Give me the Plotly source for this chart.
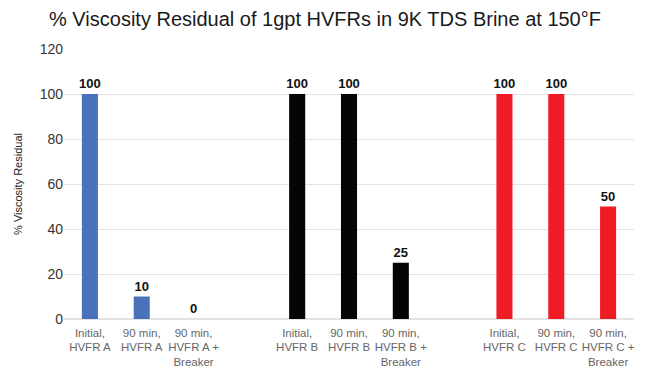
import plotly.graph_objects as go

categories = ["Initial,<br>HVFR A", "90 min,<br>HVFR A", "90 min,<br>HVFR A +<br>Breaker", " ",
              "Initial,<br>HVFR B", "90 min,<br>HVFR B", "90 min,<br>HVFR B +<br>Breaker", "  ",
              "Initial,<br>HVFR C", "90 min,<br>HVFR C", "90 min,<br>HVFR C +<br>Breaker"]
values = [100, 10, 0, None, 100, 100, 25, None, 100, 100, 50]
labels = ["100", "10", "0", "", "100", "100", "25", "", "100", "100", "50"]
colors = ["#4a72b8", "#4a72b8", "#4a72b8", "#ffffff",
          "#050505", "#050505", "#050505", "#ffffff",
          "#ee1c25", "#ee1c25", "#ee1c25"]
yticks = [0, 20, 40, 60, 80, 100, 120]

fig = go.Figure(go.Bar(
    x=categories, y=values, marker=dict(color=colors, line=dict(width=0)),
    text=labels, textposition="outside", cliponaxis=False,
    textfont=dict(family="Liberation Sans, Arial", size=13, color="#111111", weight="bold"),
))
fig.update_layout(
    width=634, height=361,
    margin=dict(l=56, r=8, t=41, b=50),
    paper_bgcolor="white", plot_bgcolor="white",
    bargap=0.69, showlegend=False,
    uniformtext=dict(minsize=13, mode="show"),
    title=dict(text="% Viscosity Residual of 1gpt HVFRs in 9K TDS Brine at 150°F",
               x=0.5, xanchor="center", y=0.97, yanchor="middle",
               font=dict(family="Liberation Sans, Arial", size=20, color="#1a1a1a")),
    font=dict(family="Liberation Sans, Arial"),
)
fig.update_xaxes(type="category", tickfont=dict(size=11.5, color="#666666"),
                 showgrid=False, showline=False, ticks="", automargin=False,
                 ticklabelstandoff=5)
fig.update_yaxes(range=[0, 120], tickvals=yticks, tickfont=dict(size=14, color="#333333"),
                 gridcolor="#e3e3e3", zeroline=True, zerolinecolor="#e3e3e3",
                 showline=False, ticks="", ticklen=0, automargin=False,
                 title=dict(text="% Viscosity Residual", font=dict(size=11, color="#222222"), standoff=14))
fig.write_html("out.html")
